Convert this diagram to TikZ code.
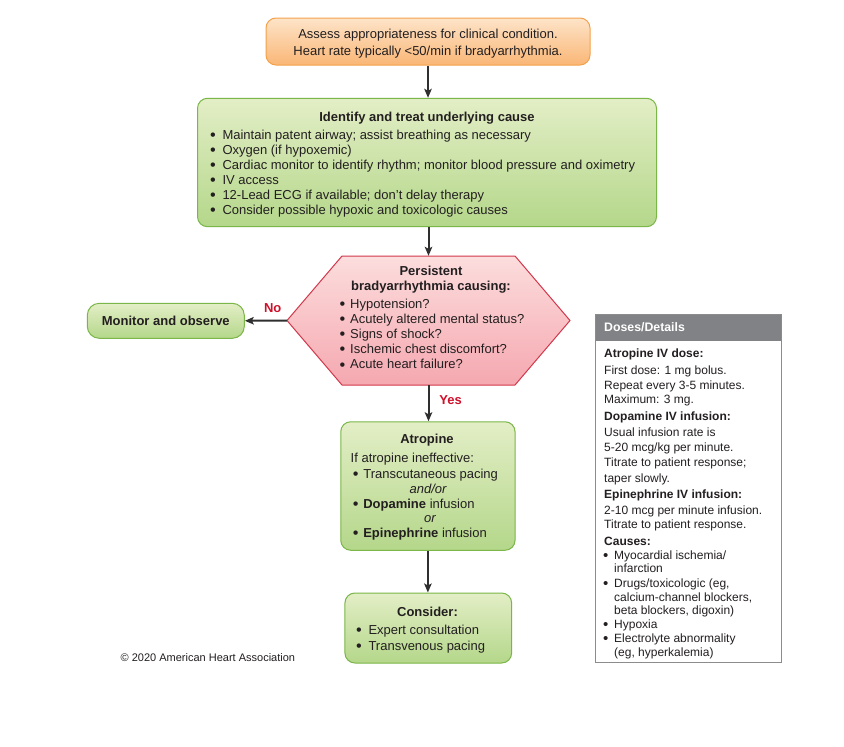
\documentclass[tikz,border=0pt]{standalone}
\usepackage{fontspec}
\setmainfont{Liberation Sans}
\usetikzlibrary{arrows.meta,calc}
\definecolor{txt}{HTML}{231F20}
\definecolor{oT}{HTML}{FDE4C8}
\definecolor{oBot}{HTML}{FAB676}
\definecolor{oB}{HTML}{F3A24C}
\definecolor{gT}{HTML}{E3EEC6}
\definecolor{gBot}{HTML}{B4D78A}
\definecolor{gB}{HTML}{7AB648}
\definecolor{pT}{HTML}{FCDDDD}
\definecolor{pBot}{HTML}{F5A8B0}
\definecolor{pB}{HTML}{D2384C}
\definecolor{arrC}{HTML}{2F2F2F}
\definecolor{labred}{HTML}{D0112B}
\definecolor{dgray}{HTML}{8C8C8C}
\definecolor{hgray}{HTML}{808285}
\newcommand\mybul[1]{\makebox[#1][l]{\raisebox{-1.3pt}{\scalebox{1.25}{\textbullet}}}}
\tikzset{
  box/.style={rounded corners=10pt, line width=1pt, inner sep=0pt, text=txt},
  obox/.style={box, draw=oB, top color=oT, bottom color=oBot},
  gbox/.style={box, draw=gB, top color=gT, bottom color=gBot},
  arr/.style={draw=arrC, line width=2pt, -{Stealth[length=9pt,width=7.5pt,inset=2pt]}},
  tl/.style={inner sep=0pt, anchor=base west, text=txt, font=\fontsize{13}{15}\selectfont},
  tc/.style={tl, anchor=base},
  dl/.style={inner sep=0pt, anchor=base west, text=txt, font=\fontsize{12}{14}\selectfont},
  lab/.style={inner sep=0pt, text=labred, font=\bfseries\fontsize{13}{15}\selectfont},
}
\begin{document}
\begin{tikzpicture}[x=1pt,y=-1pt]
\useasboundingbox[fill=white] (0,0) rectangle (844,747);

% top box
\node[obox, minimum width=324pt, minimum height=47pt] (assess) at (428,41.5) {};
\node[tc] (a1) at (428,38.5) {Assess appropriateness for clinical condition.};
\node[tc] (a2) at (428,55) {Heart rate typically <50/min if bradyarrhythmia.};

% identify box
\node[gbox, minimum width=459pt, minimum height=128.4pt] (identify) at (427,162.5) {};
\node[tc] (i0) at (427,121.2) {\bfseries Identify and treat underlying cause};
\node[tl] (i1) at (210,139) {\mybul{12.3pt}Maintain patent airway; assist breathing as necessary};
\node[tl] (i2) at (210,154.1) {\mybul{12.3pt}Oxygen (if hypoxemic)};
\node[tl] (i3) at (210,169.2) {\mybul{12.3pt}Cardiac monitor to identify rhythm; monitor blood pressure and oximetry};
\node[tl] (i4) at (210,184.3) {\mybul{12.3pt}IV access};
\node[tl] (i5) at (210,199.4) {\mybul{12.3pt}12-Lead ECG if available; don’t delay therapy};
\node[tl] (i6) at (210,214.5) {\mybul{12.3pt}Consider possible hypoxic and toxicologic causes};

% hexagon
\shade[top color=pT, bottom color=pBot, draw=pB, line width=1pt]
  (342,256) -- (515,256) -- (570,320.5) -- (515,385) -- (342,385) -- (287,320.5) -- cycle;
\node[inner sep=0pt, minimum width=283pt, minimum height=129pt] (hex) at (428.5,320.5) {};
\node[tc] (h0) at (431,275.2) {\bfseries Persistent};
\node[tc] (h1) at (431,290.2) {\bfseries bradyarrhythmia causing:};
\node[tl] (h2) at (339.4,308) {\mybul{10.6pt}Hypotension?};
\node[tl] (h3) at (339.4,323.2) {\mybul{10.6pt}Acutely altered mental status?};
\node[tl] (h4) at (339.4,338.4) {\mybul{10.6pt}Signs of shock?};
\node[tl] (h5) at (339.4,353.6) {\mybul{10.6pt}Ischemic chest discomfort?};
\node[tl] (h6) at (339.4,368.8) {\mybul{10.6pt}Acute heart failure?};

% monitor
\node[gbox, rounded corners=12pt, minimum width=157pt, minimum height=35pt,
      font=\bfseries\fontsize{13}{15}\selectfont] (monitor) at (165.8,320.8) {Monitor and observe};

% atropine
\node[gbox, minimum width=174.3pt, minimum height=128.5pt] (atropine) at (427.9,486) {};
\node[tc] (t0) at (427,443.5) {\bfseries Atropine};
\node[tl] (t1) at (350.5,462.5) {If atropine ineffective:};
\node[tl] (t2) at (352.7,478) {\mybul{10.4pt}Transcutaneous pacing};
\node[tc] (t3) at (428,493) {\itshape and/or};
\node[tl] (t4) at (352.7,508) {\mybul{10.4pt}\textbf{Dopamine} infusion};
\node[tc] (t5) at (430,522.5) {\itshape or};
\node[tl] (t6) at (352.7,537.5) {\mybul{10.4pt}\textbf{Epinephrine} infusion};

% consider
\node[gbox, minimum width=166.7pt, minimum height=70pt] (consider) at (428.3,628) {};
\node[tc] (c0) at (427.5,616) {\bfseries Consider:};
\node[tl] (c1) at (356,634.5) {\mybul{12.3pt}Expert consultation};
\node[tl] (c2) at (356,650) {\mybul{12.3pt}Transvenous pacing};

% labels
\node[lab] (no) at (272.7,308.3) {No};
\node[lab] (yes) at (450.7,400) {Yes};

% copyright
\node[inner sep=0pt, anchor=base west, text=txt, font=\fontsize{11}{13}\selectfont] (copy) at (120.5,661.6) {© 2020 American Heart Association};

% arrows
\draw[arr] (assess.south) -- (assess.south |- identify.north);
\draw[arr] (hex.north |- identify.south) -- (hex.north);
\draw[arr] (hex.west) -- (monitor.east);
\draw[arr] (hex.south) -- (hex.south |- atropine.north);
\draw[arr] (atropine.south) -- (atropine.south |- consider.north);

% doses box
\node[fill=hgray, inner sep=0pt, minimum width=186.7pt, minimum height=26.4pt] (dhead) at (688.35,327.5) {};
\node[draw=dgray, line width=1pt, inner sep=0pt, minimum width=186.7pt, minimum height=348.4pt] (doses) at (688.35,488.5) {};
\node[inner sep=0pt, anchor=base west, text=white, font=\bfseries\fontsize{12.3}{14}\selectfont] (dh) at (604,331.6) {Doses/Details};
\node[dl] (d1) at (604,357.6) {\bfseries Atropine IV dose:};
\node[dl] (d2) at (604,374.3) {First dose: 1 mg bolus.};
\node[dl] (d3) at (604,389.3) {Repeat every 3-5 minutes.};
\node[dl] (d4) at (604,403.6) {Maximum: 3 mg.};
\node[dl] (d5) at (604,420.3) {\bfseries Dopamine IV infusion:};
\node[dl] (d6) at (604,436) {Usual infusion rate is};
\node[dl] (d7) at (604,451) {5-20 mcg/kg per minute.};
\node[dl] (d8) at (604,466.6) {Titrate to patient response;};
\node[dl] (d9) at (604,482) {taper slowly.};
\node[dl] (d10) at (604,498.3) {\bfseries Epinephrine IV infusion:};
\node[dl] (d11) at (604,514.3) {2-10 mcg per minute infusion.};
\node[dl] (d12) at (604,528.6) {Titrate to patient response.};
\node[dl] (d13) at (604,545) {\bfseries Causes:};
\node[dl] (d14) at (602.9,559.3) {\mybul{11.1pt}Myocardial ischemia/};
\node[dl] (d15) at (614,572.6) {infarction};
\node[dl] (d16) at (602.9,587.6) {\mybul{11.1pt}Drugs/toxicologic (eg,};
\node[dl] (d17) at (614,601) {calcium-channel blockers,};
\node[dl] (d18) at (614,614.3) {beta blockers, digoxin)};
\node[dl] (d19) at (602.9,628.3) {\mybul{11.1pt}Hypoxia};
\node[dl] (d20) at (602.9,642.6) {\mybul{11.1pt}Electrolyte abnormality};
\node[dl] (d21) at (614,656) {(eg, hyperkalemia)};
\end{tikzpicture}
\end{document}
